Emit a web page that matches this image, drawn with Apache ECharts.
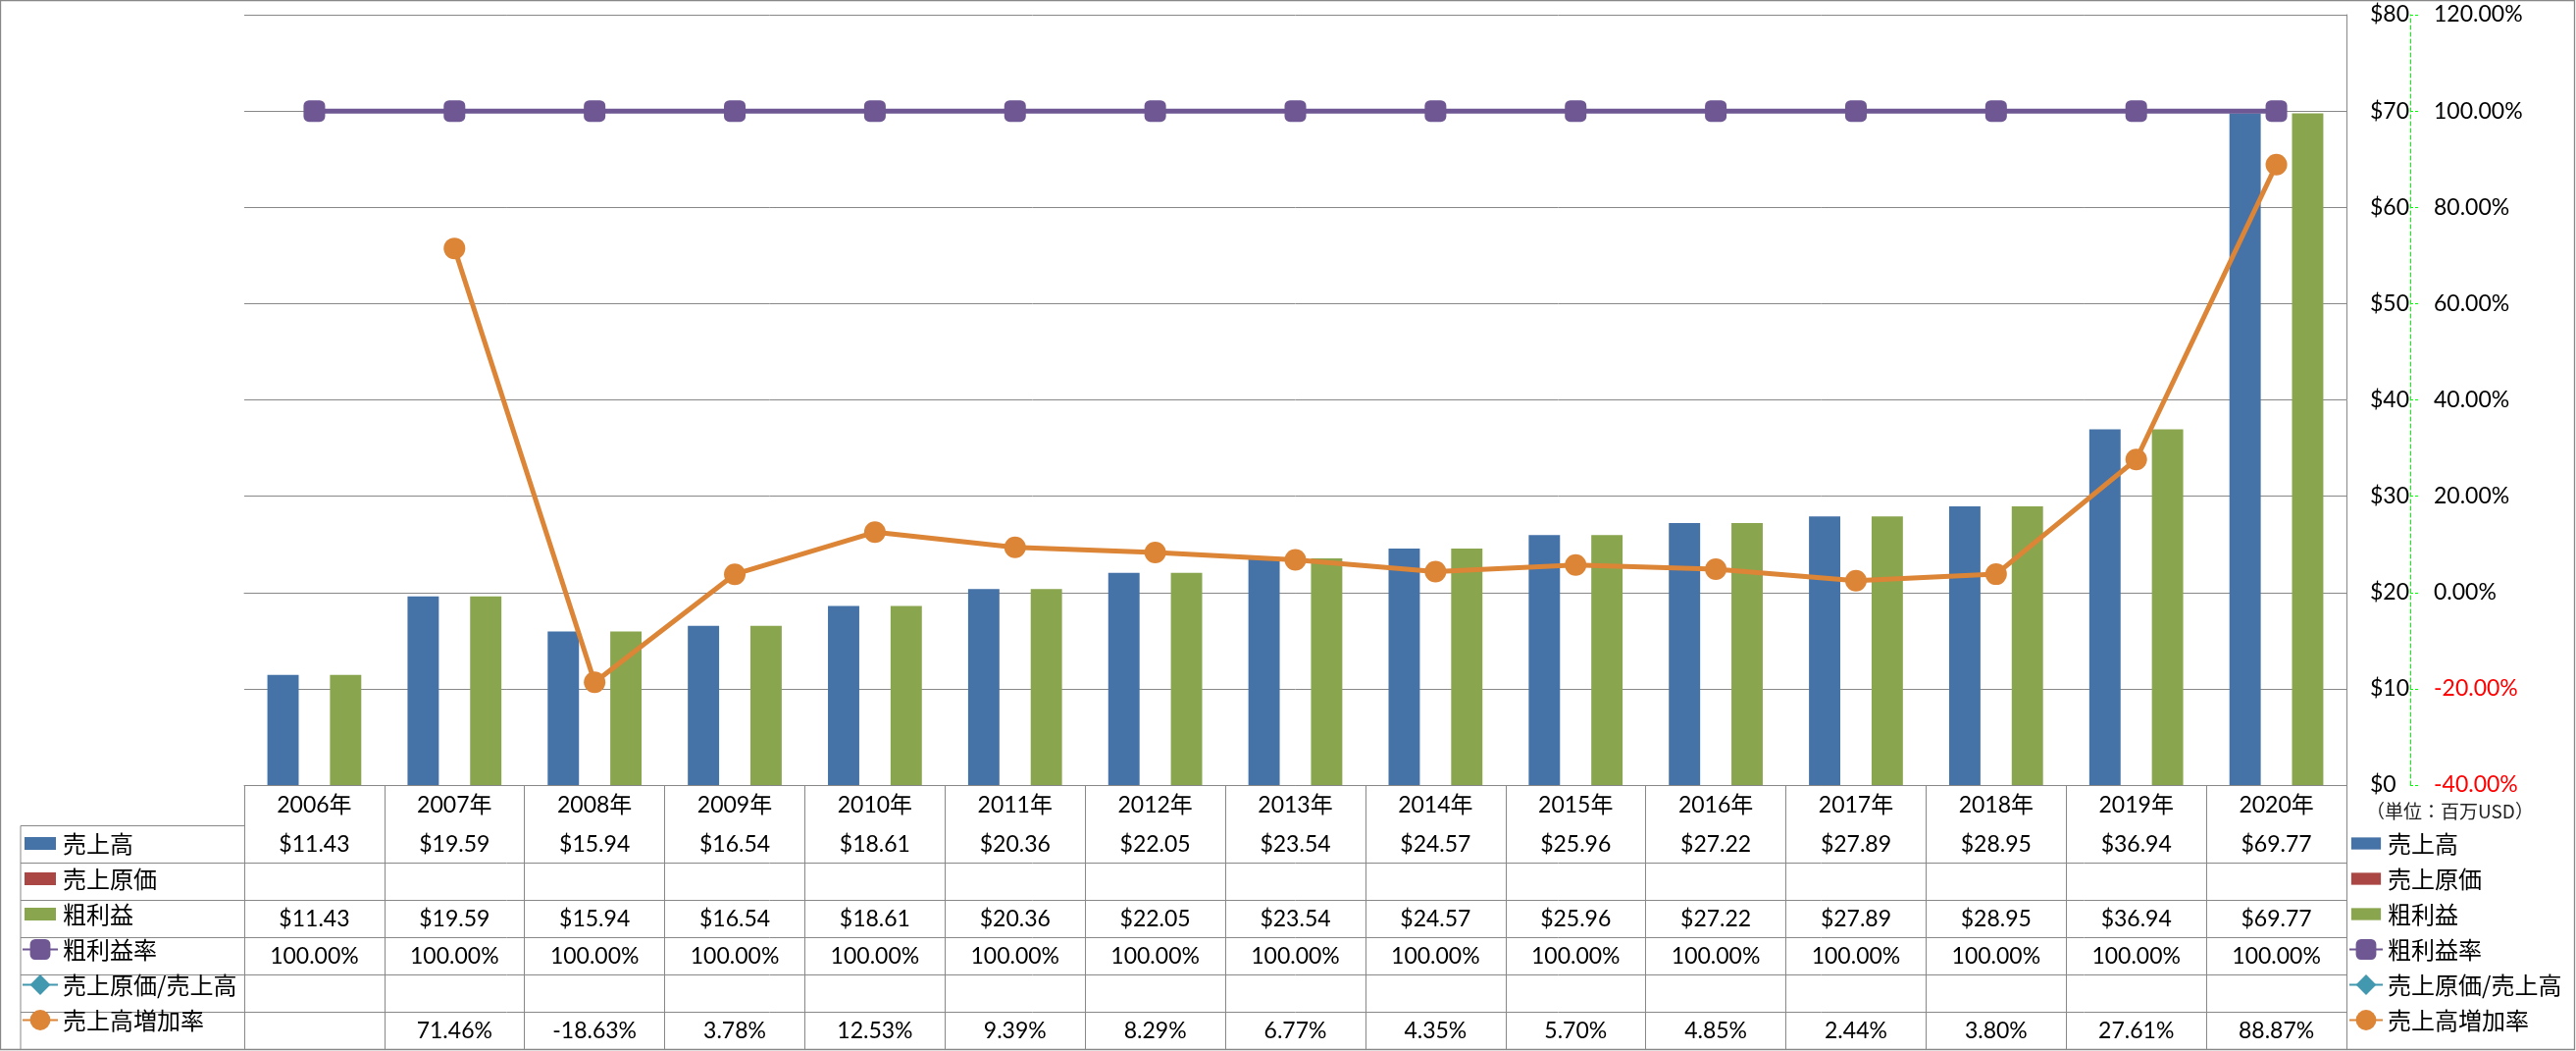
<!DOCTYPE html>
<html><head><meta charset="utf-8">
<script src="https://cdn.jsdelivr.net/npm/echarts@6/dist/echarts.min.js"></script>
<style>html,body{margin:0;padding:0;background:#fff}#c{width:2626px;height:1071px}</style>
</head><body><div id="c"></div>
<script>
// ---- data ----
const years = ['2006年','2007年','2008年','2009年','2010年','2011年','2012年','2013年','2014年','2015年','2016年','2017年','2018年','2019年','2020年'];
const sales = [11.43,19.59,15.94,16.54,18.61,20.36,22.05,23.54,24.57,25.96,27.22,27.89,28.95,36.94,69.77];
const costOfSales = [null,null,null,null,null,null,null,null,null,null,null,null,null,null,null];
const grossProfit = [11.43,19.59,15.94,16.54,18.61,20.36,22.05,23.54,24.57,25.96,27.22,27.89,28.95,36.94,69.77];
const grossMargin = [100,100,100,100,100,100,100,100,100,100,100,100,100,100,100];
const costRatio = [null,null,null,null,null,null,null,null,null,null,null,null,null,null,null];
const salesGrowth = [null,71.46,-18.63,3.78,12.53,9.39,8.29,6.77,4.35,5.70,4.85,2.44,3.80,27.61,88.87];
const moneyAxis = {min:0, max:80, interval:10};
const pctAxis = {min:-40, max:120, interval:20};
const seriesNames = ['売上高','売上原価','粗利益','粗利益率','売上原価/売上高','売上高増加率'];
const unitText = '（単位：百万USD）';

// ---- style / layout ----
const C = {blue:'#4572A7', red:'#AA4643', green:'#89A54E', purple:'#6E5792', aqua:'#4198AF', orange:'#DC8537'};
const GRIDC = '#888888';
const FONT_NUM = 'Lato, "Noto Sans CJK JP", sans-serif';
const FONT_JP = '"Noto Sans CJK JP", sans-serif';
const GL = 249, GR = 2392, GT = 15, GB = 800;
const HEADER_H = 41.5, ROW_H = 38;
const W = 2626, H = 1071;

const money = v => v == null ? '' : '$' + v.toFixed(2);
const pct = v => v == null ? '' : v.toFixed(2) + '%';
const rows = [
  sales.map(money), costOfSales.map(money), grossProfit.map(money),
  grossMargin.map(pct), costRatio.map(pct), salesGrowth.map(pct)
];

const numLabel = {fontFamily: FONT_NUM, fontSize: 23, lineHeight: 24, color: '#000'};

const xAxes = [{
  type:'category', data: years, position:'bottom', offset:0,
  axisLine:{show:true, lineStyle:{color:GRIDC, width:1}},
  axisTick:{show:true, alignWithLabel:false, interval:0, length: HEADER_H + 6*ROW_H, lineStyle:{color:GRIDC, width:1}},
  axisLabel:Object.assign({interval:0, margin:9}, numLabel),
  splitLine:{show:false}
}];
rows.forEach((r, k) => {
  xAxes.push({
    type:'category', data: years, position:'bottom', offset: HEADER_H + k*ROW_H,
    axisLine:{show:true, lineStyle:{color:GRIDC, width:1}},
    axisTick:{show:false},
    axisLabel:Object.assign({interval:0, margin:7, formatter: (v) => r[years.indexOf(v)]}, numLabel),
    splitLine:{show:false}
  });
});

const barIcon = 'path://M0 0M36 13M2 0H34V13H2Z';
const legendData = [
  {name: seriesNames[0], icon: barIcon},
  {name: seriesNames[1], icon: barIcon},
  {name: seriesNames[2], icon: barIcon},
  {name: seriesNames[3]},
  {name: seriesNames[4]},
  {name: seriesNames[5]}
];
const LEG_IH = 26;
const legendBase = {
  orient:'vertical', top: GB + HEADER_H + (ROW_H - LEG_IH)/2, itemWidth:36, itemHeight:LEG_IH, itemGap: ROW_H - LEG_IH,
  padding:0, selectedMode:false, data: legendData,
  textStyle:{fontFamily: FONT_JP, fontSize:24, lineHeight:24, color:'#000'}
};

const gfx = [
  {type:'rect', silent:true, shape:{x:0.5, y:0.5, width:W-2, height:H-2}, style:{fill:null, stroke:GRIDC, lineWidth:1.3}},
  {type:'line', silent:true, shape:{x1:21, y1:GB+HEADER_H, x2:21, y2:GB+HEADER_H+6*ROW_H}, style:{stroke:GRIDC, lineWidth:1}},
  {type:'text', silent:true, x:2412, y:827, style:{text:unitText, fontFamily:FONT_JP, fontSize:19, fill:'#222', verticalAlign:'middle', align:'left'}}
];
for (let k = 0; k < 6; k++) {
  const y = GB + HEADER_H + k*ROW_H;
  gfx.push({type:'line', silent:true, shape:{x1:21, y1:y, x2:GL, y2:y}, style:{stroke:GRIDC, lineWidth:1}});
}

const lineCommon = {type:'line', xAxisIndex:0, yAxisIndex:1, symbolSize:22, showSymbol:true, showAllSymbol:true, connectNulls:false, z:5};

const option = {
  animation:false,
  backgroundColor:'#fff',
  grid:{left:GL, right:W-GR, top:GT, bottom:H-GB, containLabel:false, outerBoundsMode:'none'},
  xAxis: xAxes,
  yAxis: [
    {type:'value', position:'right', min:moneyAxis.min, max:moneyAxis.max, interval:moneyAxis.interval,
     axisLine:{show:true, lineStyle:{color:GRIDC, width:1}}, axisTick:{show:false},
     axisLabel:Object.assign({margin:24, formatter: v => '$' + v}, numLabel),
     splitLine:{show:true, lineStyle:{color:GRIDC, width:1}}},
    {type:'value', position:'right', offset:65, min:pctAxis.min, max:pctAxis.max, interval:pctAxis.interval,
     axisLine:{show:true, lineStyle:{color:'#00FF00', width:1, type:[4,3]}},
     axisTick:{show:true, inside:false, length:8, lineStyle:{color:'#00FF00', width:1, type:[3,2]}},
     axisLabel:Object.assign({margin:24,
       formatter: v => v < 0 ? '{n|' + v.toFixed(2) + '%}' : v.toFixed(2) + '%',
       rich:{n:{color:'#FF0000', fontFamily:FONT_NUM, fontSize:23, lineHeight:24}}}, numLabel),
     splitLine:{show:false}}
  ],
  legend: [
    Object.assign({}, legendBase, {left:22}),
    Object.assign({}, legendBase, {left:2394, itemWidth:34})
  ],
  series: [
    {name:seriesNames[0], type:'bar', xAxisIndex:0, yAxisIndex:0, data:sales, barGap:'0%', barCategoryGap:'33%', itemStyle:{color:C.blue}},
    {name:seriesNames[1], type:'bar', xAxisIndex:0, yAxisIndex:0, data:costOfSales, barGap:'0%', barCategoryGap:'33%', itemStyle:{color:C.red}},
    {name:seriesNames[2], type:'bar', xAxisIndex:0, yAxisIndex:0, data:grossProfit, barGap:'0%', barCategoryGap:'33%', itemStyle:{color:C.green}},
    Object.assign({}, lineCommon, {name:seriesNames[3], data:grossMargin, symbol:'roundRect', lineStyle:{width:5, color:C.purple}, itemStyle:{color:C.purple}}),
    Object.assign({}, lineCommon, {name:seriesNames[4], data:costRatio, symbol:'diamond', lineStyle:{width:5, color:C.aqua}, itemStyle:{color:C.aqua}}),
    Object.assign({}, lineCommon, {name:seriesNames[5], data:salesGrowth, symbol:'circle', lineStyle:{width:5, color:C.orange}, itemStyle:{color:C.orange}})
  ],
  graphic: gfx
};

const chart = echarts.init(document.getElementById('c'), null, {renderer:'canvas'});
chart.setOption(option);
</script>
</body></html>
